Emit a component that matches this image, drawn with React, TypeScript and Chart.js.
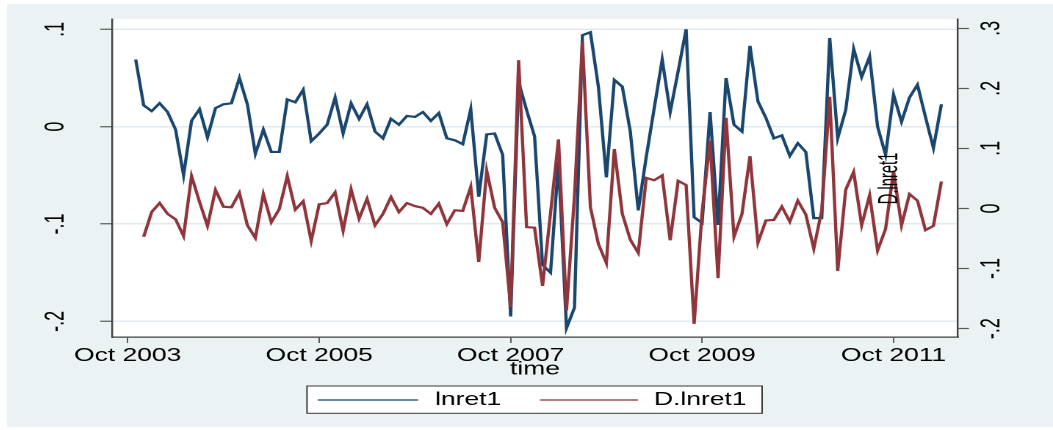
import React, { useEffect, useRef } from 'react';
import { Chart, registerables } from 'chart.js';

Chart.register(...registerables);

// ---- data (x = months after Oct 2003) ----
const xTickValues = [0, 24, 48, 72, 96];
const xTickLabels = ['Oct 2003', 'Oct 2005', 'Oct 2007', 'Oct 2009', 'Oct 2011'];
const leftTickValues = [-0.2, -0.1, 0, 0.1];
const leftTickLabels = ['-.2', '-.1', '0', '.1'];
const rightTickValues = [-0.2, -0.1, 0, 0.1, 0.2, 0.3];
const rightTickLabels = ['-.2', '-.1', '0', '.1', '.2', '.3'];
const seriesNames = ['lnret1', 'D.lnret1'];
const xTitle = 'time';
const rightTitle = 'D.lnret1';

const lnret1FirstMonth = 1; // Nov 2003
const lnret1 = [
  0.069, 0.022, 0.016, 0.024, 0.015, -0.003, -0.050, 0.006, 0.018, -0.011,
  0.019, 0.023, 0.024, 0.050, 0.023, -0.028, -0.003, -0.026, -0.026, 0.028,
  0.025, 0.038, -0.015, -0.007, 0.002, 0.030, -0.007, 0.024, 0.008, 0.023,
  -0.005, -0.012, 0.008, 0.002, 0.011, 0.010, 0.015, 0.006, 0.014, -0.012,
  -0.014, -0.018, 0.018, -0.072, -0.008, -0.007, -0.029, -0.195, 0.046, 0.017,
  -0.010, -0.142, -0.150, -0.036, -0.207, -0.186, 0.094, 0.097, 0.041, -0.052,
  0.048, 0.041, -0.005, -0.086, -0.031, 0.019, 0.069, 0.015, 0.057, 0.100,
  -0.093, -0.099, 0.015, -0.101, 0.050, 0.002, -0.005, 0.083, 0.026, 0.009,
  -0.012, -0.009, -0.030, -0.017, -0.026, -0.094, -0.094, 0.091, -0.012, 0.017,
  0.080, 0.051, 0.072, 0.000, -0.029, 0.033, 0.005, 0.030, 0.043, 0.010,
  -0.022, 0.023,
];

const dLnret1FirstMonth = 2; // Dec 2003
const dLnret1 = [
  -0.047, -0.006, 0.009, -0.009, -0.018, -0.046, 0.054, 0.011, -0.029, 0.031,
  0.003, 0.002, 0.026, -0.028, -0.049, 0.024, -0.023, -0.001, 0.054, -0.002,
  0.012, -0.054, 0.007, 0.009, 0.027, -0.037, 0.032, -0.017, 0.016, -0.028,
  -0.009, 0.019, -0.006, 0.009, 0.004, 0.001, -0.009, 0.008, -0.026, -0.003,
  -0.004, 0.036, -0.089, 0.063, 0.001, -0.023, -0.164, 0.247, -0.031, -0.032,
  -0.129, -0.008, 0.115, -0.170, 0.020, 0.278, 0.002, -0.059, -0.091, 0.099,
  -0.009, -0.052, -0.074, 0.051, 0.047, 0.055, -0.053, 0.046, 0.039, -0.192,
  -0.006, 0.113, -0.116, 0.151, -0.047, -0.009, 0.087, -0.057, -0.020, -0.019,
  0.003, -0.022, 0.013, -0.010, -0.067, -0.003, 0.186, -0.104, 0.031, 0.061,
  -0.028, 0.022, -0.070, -0.034, 0.062, -0.028, 0.024, 0.013, -0.036, -0.029,
  0.045,
];

// ---- styling ----
const FONT = "'Liberation Sans', Arial, Helvetica, sans-serif";
const BLUE = '#1A476F';
const RED = '#90353B';
const BG = '#EAF2F3';
const GRID = '#E0EAED';
const AXIS = '#404040';
const TICK = '#5a5a5a';

// internal canvas is drawn narrower and stretched horizontally (as in the reference)
const CW = 712;
const CH = 423;
const CSS_W = 1046;

const stataPlugin = {
  id: 'stataLook',
  beforeDraw(chart: any) {
    const { ctx, width, height, chartArea: a } = chart;
    ctx.save();
    ctx.fillStyle = BG;
    ctx.fillRect(0, 0, width, height);
    ctx.fillStyle = '#FFFFFF';
    ctx.fillRect(a.left, a.top, a.right - a.left, a.bottom - a.top);
    ctx.restore();
  },
  afterDraw(chart: any) {
    const { ctx, chartArea: a } = chart;
    const yl = chart.scales.y;
    const yr = chart.scales.y2;
    ctx.save();
    ctx.fillStyle = '#000';
    ctx.font = `18px ${FONT}`;
    ctx.textAlign = 'center';
    ctx.textBaseline = 'middle';
    leftTickValues.forEach((v, i) => {
      const py = yl.getPixelForValue(v);
      ctx.save();
      ctx.translate(a.left - 38, py);
      ctx.rotate(-Math.PI / 2);
      ctx.fillText(leftTickLabels[i], 0, 0);
      ctx.restore();
    });
    rightTickValues.forEach((v, i) => {
      const py = yr.getPixelForValue(v);
      ctx.save();
      ctx.translate(a.right + 23, py);
      ctx.rotate(-Math.PI / 2);
      ctx.fillText(rightTickLabels[i], 0, 0);
      ctx.restore();
    });
    // right axis title (placed inside the plot, as in the reference)
    ctx.save();
    ctx.translate(a.right - 46.2, 174.5);
    ctx.rotate(-Math.PI / 2);
    ctx.scale(0.82, 1);
    ctx.fillText(rightTitle, 0, 0);
    ctx.restore();

    // legend box
    const lx0 = 204.2, lx1 = 514, ly0 = 382, ly1 = 409.3;
    ctx.fillStyle = '#FFFFFF';
    ctx.fillRect(lx0, ly0, lx1 - lx0, ly1 - ly0);
    ctx.strokeStyle = '#3a3a3a';
    ctx.lineWidth = 1;
    ctx.strokeRect(lx0, ly0, lx1 - lx0, ly1 - ly0);
    const ds = chart.data.datasets;
    const items = [
      { x0: 211.6, x1: 279.8, tx: 291.4 },
      { x0: 362.8, x1: 429.5, tx: 440.4 },
    ];
    items.forEach((it, i) => {
      const ly = 396;
      ctx.strokeStyle = ds[i].borderColor;
      ctx.globalAlpha = 0.85;
      ctx.lineWidth = 1.4;
      ctx.beginPath();
      ctx.moveTo(it.x0, ly);
      ctx.lineTo(it.x1, ly);
      ctx.stroke();
      ctx.globalAlpha = 1;
      ctx.fillStyle = '#000';
      ctx.textAlign = 'left';
      ctx.textBaseline = 'middle';
      ctx.font = `18px ${FONT}`;
      ctx.fillText(ds[i].label, it.tx, ly);
    });
    ctx.restore();
  },
};

export default function App() {
  const canvasRef = useRef<HTMLCanvasElement | null>(null);

  useEffect(() => {
    const canvas = canvasRef.current;
    if (!canvas) return;
    const chart = new Chart(canvas, {
      type: 'line',
      data: {
        datasets: [
          {
            label: seriesNames[0],
            data: lnret1.map((v, i) => ({ x: lnret1FirstMonth + i, y: v })),
            yAxisID: 'y',
            borderColor: BLUE,
            backgroundColor: BLUE,
            borderWidth: 2.2,
            pointRadius: 0,
            tension: 0,
            fill: false,
            order: 1,
          },
          {
            label: seriesNames[1],
            data: dLnret1.map((v, i) => ({ x: dLnret1FirstMonth + i, y: v })),
            yAxisID: 'y2',
            borderColor: RED,
            backgroundColor: RED,
            borderWidth: 2.2,
            pointRadius: 0,
            tension: 0,
            fill: false,
            order: 0,
          },
        ],
      },
      options: {
        responsive: false,
        maintainAspectRatio: false,
        devicePixelRatio: 2,
        animation: false,
        events: [],
        layout: { padding: { top: 15, left: 0, right: 0, bottom: 46.8 } },
        plugins: {
          legend: { display: false },
          tooltip: { enabled: false },
          title: { display: false },
        },
        scales: {
          x: {
            type: 'linear',
            position: 'bottom',
            min: -1.97,
            max: 104.08,
            afterBuildTicks: (s: any) => {
              s.ticks = xTickValues.map((v) => ({ value: v }));
            },
            afterFit: (s: any) => {
              s.height = 43.2;
            },
            ticks: {
              callback: (v: any) => {
                const k = xTickValues.indexOf(Number(v));
                return k >= 0 ? xTickLabels[k] : '';
              },
              font: { family: FONT, size: 18 },
              color: '#000',
              padding: 2,
              maxRotation: 0,
              minRotation: 0,
              autoSkip: false,
            },
            grid: {
              drawOnChartArea: false,
              drawTicks: true,
              tickLength: 6,
              tickColor: TICK,
              tickWidth: 1,
            },
            border: { display: true, color: AXIS, width: 1.3 },
            title: {
              display: true,
              text: xTitle,
              font: { family: FONT, size: 18 },
              color: '#000',
              padding: 0,
            },
          },
          y: {
            type: 'linear',
            position: 'left',
            min: -0.2161,
            max: 0.1106,
            afterBuildTicks: (s: any) => {
              s.ticks = leftTickValues.map((v) => ({ value: v }));
            },
            afterFit: (s: any) => {
              s.width = 71.47;
            },
            ticks: { display: false },
            grid: {
              drawOnChartArea: true,
              color: GRID,
              lineWidth: 1.5,
              drawTicks: true,
              tickLength: 8,
              tickColor: TICK,
              tickWidth: 1.2,
            },
            border: { display: true, color: AXIS, width: 1.2 },
          },
          y2: {
            type: 'linear',
            position: 'right',
            min: -0.214,
            max: 0.3155,
            afterBuildTicks: (s: any) => {
              s.ticks = rightTickValues.map((v) => ({ value: v }));
            },
            afterFit: (s: any) => {
              s.width = 64.67;
            },
            ticks: { display: false },
            grid: {
              drawOnChartArea: false,
              drawTicks: true,
              tickLength: 7.5,
              tickColor: TICK,
              tickWidth: 1.2,
            },
            border: { display: true, color: AXIS, width: 1.2 },
          },
        },
      },
      plugins: [stataPlugin],
    } as any);
    return () => {
      chart.destroy();
    };
  }, []);

  return (
    <div
      style={{
        position: 'fixed',
        left: 0,
        top: 0,
        width: '1053px',
        height: '430px',
        background: '#FFFFFF',
        overflow: 'hidden',
      }}
    >
      <canvas
        ref={canvasRef}
        width={CW}
        height={CH}
        style={{
          position: 'absolute',
          left: '7px',
          top: '4px',
          width: `${CSS_W}px`,
          height: `${CH}px`,
        }}
      />
    </div>
  );
}
